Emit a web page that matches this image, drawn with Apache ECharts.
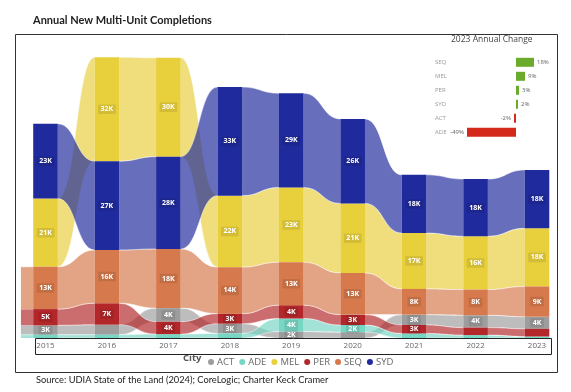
<!DOCTYPE html>
<html><head><meta charset="utf-8">
<script src="https://cdn.jsdelivr.net/npm/echarts@6/dist/echarts.min.js"></script>
<style>html,body{margin:0;padding:0;background:#fff}#c{width:571px;height:392px}</style>
</head><body><div id="c"></div>
<script>
// ---- data (thousands of completions) ----
const years = ['2015','2016','2017','2018','2019','2020','2021','2022','2023'];
const cities = ['ACT','ADE','MEL','PER','SEQ','SYD'];
const ACT = [2.9, 3.1, 4.2, 3.0, 2.0, 1.8, 3.2, 3.8, 3.72];
const ADE = [1.0, 1.0, 1.2, 1.4, 4.0, 2.2, 1.4, 0.9, 0.46];
const MEL = [21, 32, 30.4, 22, 23, 21.4, 17.2, 16.4, 17.9];
const PER = [5, 6.6, 3.8, 3.1, 4.1, 3.2, 2.6, 2.3, 2.37];
const SEQ = [13, 16.4, 18.2, 14.3, 13.2, 12.8, 7.9, 7.9, 9.3];
const SYD = [23, 27.3, 28.4, 33.4, 29, 26, 17.9, 17.6, 17.95];
const changeCities = ['SEQ','MEL','PER','SYD','ACT','ADE'];
const changePct = [18, 9, 3, 2, -2, -49];
const hiddenLabels = ['2016-ACT','2022-PER','2023-PER'];
const leadIn = ['SEQ','PER','ACT','ADE'];

const values = {ACT, ADE, MEL, PER, SEQ, SYD};
const colors = {ACT:'#9d9d9d', ADE:'#78d6c4', MEL:'#e8cf3c', PER:'#b3272a', SEQ:'#d6794c', SYD:'#1f2a9c'};
function rgba(hex, a){
  const n = parseInt(hex.slice(1),16);
  return 'rgba(' + (n>>16&255) + ',' + (n>>8&255) + ',' + (n&255) + ',' + a + ')';
}

// rank-ordered stacking per year (largest on top)
const pos = {};
cities.forEach(c => pos[c] = []);
years.forEach((y, i) => {
  const order = cities.slice().sort((a, b) => values[a][i] - values[b][i]);
  let base = 0;
  order.forEach(c => { pos[c][i] = [base, base + values[c][i]]; base += values[c][i]; });
});

const edgeStyle = {fill:'none', stroke:'rgba(255,255,255,0.8)', lineWidth:0.6};

function makeRender(city){
  const col = colors[city];
  return function(params, api){
    const i = api.value(0), lo = api.value(1), hi = api.value(2), v = api.value(5);
    const band = api.size([1, 0])[0];
    const bw = band * 0.4;
    const pLo = api.coord([i, lo]), pHi = api.coord([i, hi]);
    const cx = pLo[0];
    const children = [];
    if (i < years.length - 1) {
      const qLo = api.coord([i + 1, api.value(3)]), qHi = api.coord([i + 1, api.value(4)]);
      const x1 = cx + bw / 2, x2 = qLo[0] - bw / 2, xm = (x1 + x2) / 2;
      const top = 'M' + x1 + ',' + pHi[1] + ' C' + xm + ',' + pHi[1] + ' ' + xm + ',' + qHi[1] + ' ' + x2 + ',' + qHi[1];
      const bot = 'M' + x2 + ',' + qLo[1] + ' C' + xm + ',' + qLo[1] + ' ' + xm + ',' + pLo[1] + ' ' + x1 + ',' + pLo[1];
      const d = top + ' L' + x2 + ',' + qLo[1] + ' C' + xm + ',' + qLo[1] + ' ' + xm + ',' + pLo[1] + ' ' + x1 + ',' + pLo[1] + ' Z';
      children.push({type:'path', shape:{pathData:d}, style:{fill:rgba(col,0.68)}});
      children.push({type:'path', shape:{pathData:top}, style:edgeStyle});
      children.push({type:'path', shape:{pathData:bot}, style:edgeStyle});
    }
    if (i === 0 && leadIn.indexOf(city) >= 0) {
      const x0 = cx - bw/2 - band*0.2;
      children.push({type:'rect', shape:{x:x0, y:pHi[1], width:band*0.2, height:pLo[1]-pHi[1]}, style:{fill:rgba(col,0.68)}});
      children.push({type:'line', shape:{x1:x0, y1:pHi[1], x2:cx-bw/2, y2:pHi[1]}, style:edgeStyle});
    }
    children.push({type:'rect', shape:{x:cx - bw/2, y:pHi[1], width:bw, height:pLo[1]-pHi[1]}, style:{fill:col}});
    const key = years[i] + '-' + city;
    if (v >= 1.9 && hiddenLabels.indexOf(key) < 0) {
      children.push({type:'text', x:cx, y:(pLo[1]+pHi[1])/2, z2:10,
        style:{text:Math.round(v)+'K', fill:'#fff', fontSize:7, fontWeight:'bold', fontFamily:'Open Sans',
               align:'center', verticalAlign:'middle', backgroundColor:'rgba(0,0,0,0.09)', padding:[1.5,2.5,1,2.5], borderRadius:1}});
    }
    return {type:'group', children};
  };
}

const series = cities.map(c => ({
  type:'custom', name:c, renderItem:makeRender(c), clip:false,
  itemStyle:{color:colors[c]}, xAxisIndex:0, yAxisIndex:0,
  encode:{x:0, y:[1,2]},
  data: years.map((y, i) => [i, pos[c][i][0], pos[c][i][1],
        i < years.length-1 ? pos[c][i+1][0] : 0, i < years.length-1 ? pos[c][i+1][1] : 0, values[c][i]])
}));

series.push({
  type:'bar', xAxisIndex:1, yAxisIndex:1, barWidth:9, silent:true,
  data: changePct.map(v => ({value:v, itemStyle:{color: v >= 0 ? '#6aab2c' : '#d42a1c'},
        label:{position: v >= 0 ? 'right' : 'left'}})),
  label:{show:true, formatter:'{c}%', fontSize:6, color:'#666', distance:3, fontFamily:'Open Sans'}
});

const chart = echarts.init(document.getElementById('c'), null, {renderer:'canvas'});
chart.setOption({
  animation:false,
  textStyle:{fontFamily:'Open Sans'},
  grid:[
    {left:14.78, right:3.26, top:45.5, bottom:54},
    {left:456, width:90, top:55.3, height:84}
  ],
  xAxis:[
    {type:'category', data:years, gridIndex:0, boundaryGap:true,
     axisLine:{show:false}, axisTick:{show:false},
     axisLabel:{color:'#666', fontSize:8, margin:4, fontFamily:'Open Sans'}},
    {type:'value', gridIndex:1, min:-60, max:30, show:false}
  ],
  yAxis:[
    {type:'value', gridIndex:0, min:0, max:90, show:false},
    {type:'category', gridIndex:1, data:changeCities, inverse:true,
     axisLine:{show:false}, axisTick:{show:false}, splitLine:{show:false},
     axisLabel:{align:'left', margin:21, fontSize:6, color:'#999', fontFamily:'Open Sans'}}
  ],
  legend:{data:cities, left:203, top:352, icon:'circle', itemWidth:6, itemHeight:6, itemGap:5,
          textStyle:{fontSize:9.5, color:'#666', fontFamily:'Open Sans', padding:[0,0,0,-2]}, selectedMode:false},
  series,
  graphic:[
    {type:'text', left:33, top:15, style:{text:'Annual New Multi-Unit Completions', fill:'#222', font:'bold 11px Lato'}},
    {type:'rect', shape:{x:15.5, y:34.5, width:542, height:338}, style:{fill:'none', stroke:'#333', lineWidth:1}, z:-1},
    {type:'rect', shape:{x:35.5, y:338.5, width:516, height:16}, style:{fill:'none', stroke:'#222', lineWidth:1}, z:20},
    {type:'text', left:183, top:353, style:{text:'City', fill:'#555', font:'bold 9.5px "Open Sans"'}},
    {type:'text', left:451, top:35, style:{text:'2023 Annual Change', fill:'#444', font:'8.5px "Open Sans"'}},
    {type:'text', left:36, top:375, style:{text:'Source: UDIA State of the Land (2024); CoreLogic; Charter Keck Cramer', fill:'#222', font:'9.3px Lato'}}
  ]
});
</script></body></html>
